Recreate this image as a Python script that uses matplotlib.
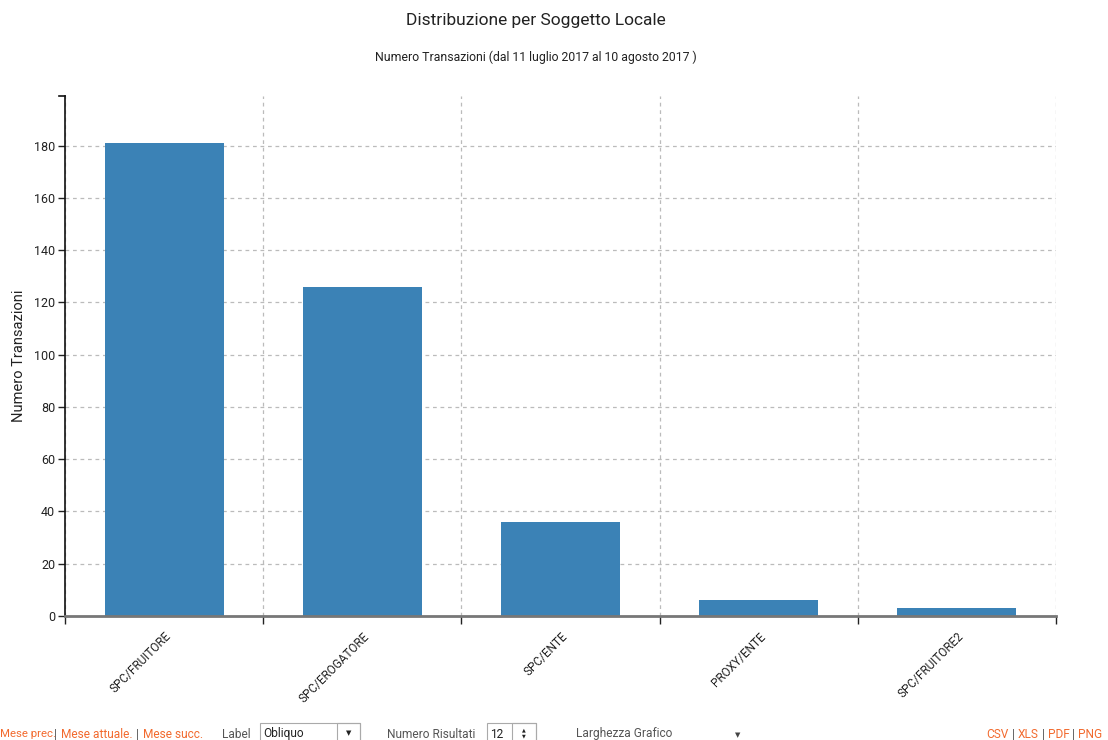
import matplotlib
matplotlib.use("Agg")
import matplotlib.pyplot as plt
from matplotlib.patches import Rectangle
import numpy as np

categories = ["SPC/FRUITORE", "SPC/EROGATORE", "SPC/ENTE", "PROXY/ENTE", "SPC/FRUITORE2"]
values = [181, 126, 36, 6, 3]
yticks = [0, 20, 40, 60, 80, 100, 120, 140, 160, 180]

plt.rcParams['font.family'] = ['Roboto', 'DejaVu Sans']

W, H = 1108, 740
fig = plt.figure(figsize=(W / 100, H / 100), dpi=100)
ax = fig.add_axes([65 / W, 1 - 616 / H, (1056 - 65) / W, (616 - 96) / H])

n = len(categories)
x = np.arange(n) + 0.5
ax.bar(x, values, width=0.6, color='#3b82b6', zorder=3)
ax.set_xlim(0, n)
ax.set_ylim(0, 199)

ax.set_yticks(yticks)
ax.set_yticklabels([str(v) for v in yticks], fontsize=9, color='#222')
ax.set_xticks(x)
ax.set_xticklabels(categories, rotation=45, ha='right', rotation_mode='anchor', fontsize=8.5, color='#222')
ax.set_xticks(np.arange(n + 1), minor=True)
ax.tick_params(axis='x', which='major', length=0, pad=10)
ax.tick_params(axis='x', which='minor', length=6, width=1, color='#222', direction='out')
ax.tick_params(axis='y', length=5, width=1, color='#222', pad=2)

for b in range(n + 1):
    ax.axvline(b, color='#bbbbbb', lw=0.9, ls=(0, (3, 3)), zorder=1)
for t in yticks[1:]:
    ax.axhline(t, color='#bbbbbb', lw=0.9, ls=(0, (3, 3)), zorder=1)

for s in ['top', 'right']:
    ax.spines[s].set_visible(False)
ax.spines['left'].set_color('#111')
ax.spines['left'].set_linewidth(1.2)
ax.spines['bottom'].set_color('#777')
ax.spines['bottom'].set_linewidth(2)
ax.spines['bottom'].set_zorder(4)
# small tick at top of y axis
ax.plot([-0.006, 0], [199, 199], color='#111', lw=1.2, clip_on=False, transform=ax.get_yaxis_transform())

ax.set_ylabel("Numero Transazioni", fontsize=10.5, color='#222')
ax.yaxis.set_label_coords(-39 / (1056 - 65), 0.5)

fig.text(536 / W, 1 - 20 / H, "Distribuzione per Soggetto Locale", ha='center', va='center', fontsize=12.5, color='#222')
fig.text(536 / W, 1 - 57 / H, "Numero Transazioni (dal 11 luglio 2017 al 10 agosto 2017 )", ha='center', va='center', fontsize=8.8, color='#222')

# bottom controls
orange = '#f26a2e'
gray = '#555555'
yb = 1 - 734 / H
fs = 8.6
fig.text(0 / W, yb, "Mese prec.", color=orange, fontsize=8.2, va='center', ha='left')
fig.text(54 / W, yb, "|", color=gray, fontsize=fs, va='center', ha='left')
fig.text(61 / W, yb, "Mese attuale.", color=orange, fontsize=fs, va='center', ha='left')
fig.text(136 / W, yb, "|", color=gray, fontsize=fs, va='center', ha='left')
fig.text(143 / W, yb, "Mese succ.", color=orange, fontsize=fs, va='center', ha='left')

fig.text(222 / W, yb, "Label", color=gray, fontsize=fs, va='center', ha='left')
fig.patches.append(Rectangle((260 / W, 1 - 742 / H), 100 / W, 19 / H, transform=fig.transFigure, fill=False, ec='#aaaaaa', lw=0.8))
fig.patches.append(Rectangle((337 / W, 1 - 742 / H), 23 / W, 19 / H, transform=fig.transFigure, fill=False, ec='#aaaaaa', lw=0.8))
fig.text(263 / W, yb, "Obliquo", color='#222', fontsize=fs, va='center', ha='left')
fig.text(348.5 / W, 1 - 734 / H, "▼", color='#222', fontsize=5, va='center', ha='center')

fig.text(387 / W, yb, "Numero Risultati", color=gray, fontsize=fs, va='center', ha='left')
fig.patches.append(Rectangle((487 / W, 1 - 742 / H), 49 / W, 19 / H, transform=fig.transFigure, fill=False, ec='#aaaaaa', lw=0.8))
fig.patches.append(Rectangle((512 / W, 1 - 742 / H), 24 / W, 19 / H, transform=fig.transFigure, fill=False, ec='#aaaaaa', lw=0.8))
fig.text(490 / W, yb, "12", color='#222', fontsize=fs, va='center', ha='left')
fig.text(524 / W, 1 - 730 / H, "▲", color='#222', fontsize=3.5, va='center', ha='center')
fig.text(524 / W, 1 - 736 / H, "▼", color='#222', fontsize=3.5, va='center', ha='center')

fig.text(576 / W, yb, "Larghezza Grafico", color=gray, fontsize=fs, va='center', ha='left')
fig.text(738 / W, 1 - 736 / H, "▼", color='#444', fontsize=5, va='center', ha='center')

fig.text(986 / W, yb, "CSV", color=orange, fontsize=fs, va='center', ha='left')
fig.text(1012 / W, yb, "|", color=gray, fontsize=fs, va='center', ha='left')
fig.text(1018 / W, yb, "XLS", color=orange, fontsize=fs, va='center', ha='left')
fig.text(1042 / W, yb, "|", color=gray, fontsize=fs, va='center', ha='left')
fig.text(1048 / W, yb, "PDF", color=orange, fontsize=fs, va='center', ha='left')
fig.text(1072 / W, yb, "|", color=gray, fontsize=fs, va='center', ha='left')
fig.text(1078 / W, yb, "PNG", color=orange, fontsize=fs, va='center', ha='left')

fig.savefig("out.png", dpi=100)
